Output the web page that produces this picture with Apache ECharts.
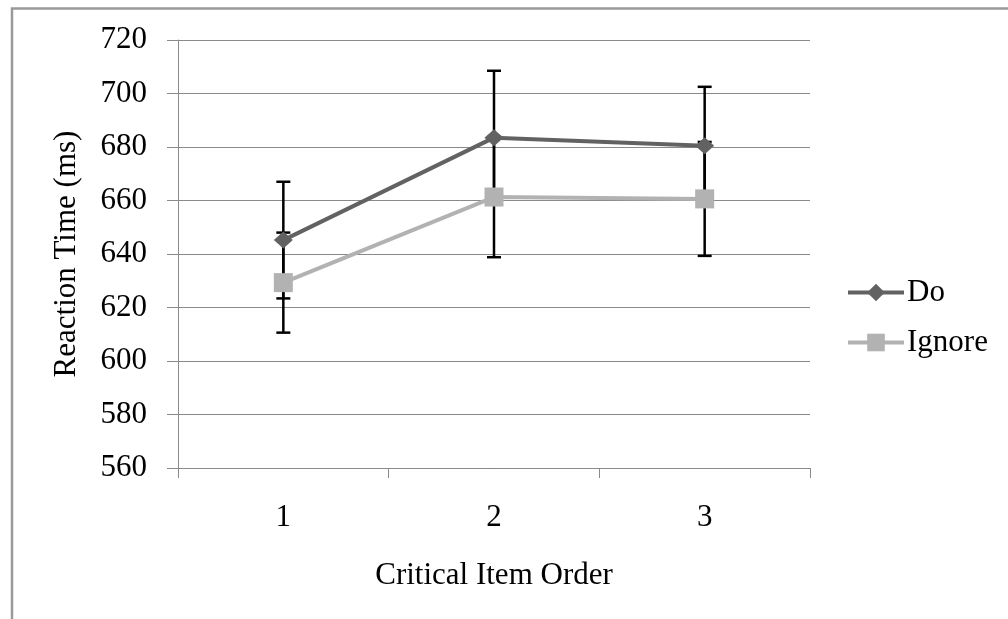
<!DOCTYPE html>
<html>
<head>
<meta charset="utf-8">
<script src="https://cdn.jsdelivr.net/npm/echarts@6/dist/echarts.min.js"></script>
<style>
html,body{margin:0;padding:0;background:#fff;}
#chart{width:1008px;height:619px;}
</style>
</head>
<body>
<div id="chart"></div>
<script>
var categories = ['1', '2', '3'];
var doMean = [645.2, 683.5, 680.5];
var doErr = [21.8, 25.0, 22.0];
var ignoreMean = [629.3, 661.3, 660.6];
var ignoreErr = [18.7, 22.5, 21.3];
var yTicks = [560, 580, 600, 620, 640, 660, 680, 700, 720];

var FONT = '"Liberation Serif", "Times New Roman", serif';

function errData(mean, err) {
  return mean.map(function (m, i) { return [i, m - err[i], m + err[i]]; });
}

function errRender(params, api) {
  var x = api.value(0);
  var lo = api.coord([x, api.value(1)]);
  var hi = api.coord([x, api.value(2)]);
  var half = 7;
  var st = { stroke: '#000', lineWidth: 2.5 };
  return {
    type: 'group',
    children: [
      { type: 'line', shape: { x1: hi[0], y1: hi[1], x2: lo[0], y2: lo[1] }, style: st },
      { type: 'line', shape: { x1: hi[0] - half, y1: hi[1], x2: hi[0] + half, y2: hi[1] }, style: st },
      { type: 'line', shape: { x1: lo[0] - half, y1: lo[1], x2: lo[0] + half, y2: lo[1] }, style: st }
    ]
  };
}

var chart = echarts.init(document.getElementById('chart'), null, { renderer: 'canvas' });
chart.setOption({
  animation: false,
  backgroundColor: '#fff',
  graphic: [{
    type: 'rect', z: 100,
    shape: { x: 12, y: 8.5, width: 1020, height: 640 },
    style: { fill: 'none', stroke: '#9a9a9a', lineWidth: 2.5 }
  }],
  grid: { left: 178, right: 198, top: 40, bottom: 151, containLabel: false },
  legend: {
    orient: 'vertical',
    left: 846, top: 277,
    padding: 0,
    itemWidth: 56, itemHeight: 22,
    itemGap: 19,
    textStyle: { fontFamily: FONT, fontSize: 31, color: '#000', padding: [0, 0, 0, -2] },
    lineStyle: { width: 4 },
    data: ['Do', 'Ignore']
  },
  xAxis: {
    type: 'category',
    data: categories,
    boundaryGap: true,
    name: 'Critical Item Order',
    nameLocation: 'middle',
    nameGap: 92,
    nameTextStyle: { fontFamily: FONT, fontSize: 31, color: '#000' },
    axisLine: { lineStyle: { color: '#8a8a8a', width: 1 } },
    axisTick: { show: true, length: 10, alignWithLabel: false, lineStyle: { color: '#8a8a8a' } },
    axisLabel: { fontFamily: FONT, fontSize: 31, color: '#000', margin: 34 },
    splitLine: { show: false }
  },
  yAxis: {
    type: 'value',
    min: 560, max: 720, interval: 20,
    name: 'Reaction Time (ms)',
    nameLocation: 'middle',
    nameGap: 96,
    nameTextStyle: { fontFamily: FONT, fontSize: 31, color: '#000' },
    axisLine: { show: true, lineStyle: { color: '#8a8a8a', width: 1 } },
    axisTick: { show: true, length: 11, lineStyle: { color: '#8a8a8a' } },
    axisLabel: {
      fontFamily: FONT, fontSize: 31, color: '#000', margin: 31,
      formatter: function (v) { return yTicks.indexOf(v) >= 0 ? String(v) : ''; }
    },
    splitLine: { show: true, lineStyle: { color: '#8a8a8a', width: 1 } }
  },
  series: [
    {
      type: 'custom', name: 'DoErr', z: 1,
      renderItem: errRender,
      data: errData(doMean, doErr),
      encode: { x: 0, y: [1, 2] }
    },
    {
      type: 'custom', name: 'IgnoreErr', z: 1,
      renderItem: errRender,
      data: errData(ignoreMean, ignoreErr),
      encode: { x: 0, y: [1, 2] }
    },
    {
      type: 'line', name: 'Do', z: 3,
      data: doMean,
      symbol: 'diamond', symbolSize: [19, 17],
      lineStyle: { color: '#626262', width: 4 },
      itemStyle: { color: '#626262' }
    },
    {
      type: 'line', name: 'Ignore', z: 2,
      data: ignoreMean,
      symbol: 'rect', symbolSize: 19,
      lineStyle: { color: '#b2b2b2', width: 4 },
      itemStyle: { color: '#b2b2b2' }
    }
  ]
});
</script>
</body>
</html>
